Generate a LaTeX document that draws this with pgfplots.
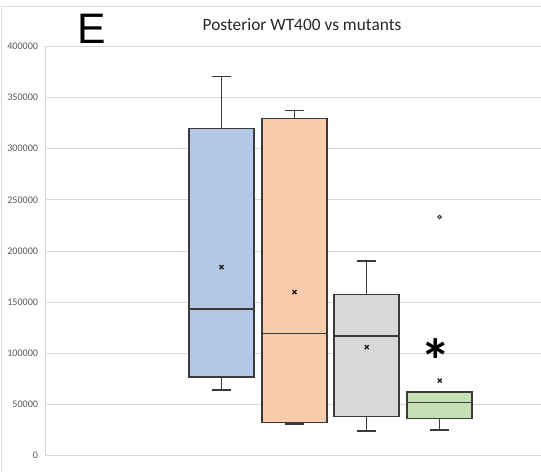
\documentclass[border=0pt]{standalone}
\usepackage{pgfplots}
\pgfplotsset{compat=1.18}
\usepgfplotslibrary{statistics}
\usepackage{fontspec}
\setmainfont{Carlito}
\newfontfamily\arialfont{Liberation Sans}
\definecolor{gridc}{HTML}{D9D9D9}
\definecolor{tickc}{HTML}{595959}
\definecolor{boxline}{HTML}{3A3A3A}
\definecolor{cblue}{HTML}{B4C7E7}
\definecolor{corange}{HTML}{F8CBAD}
\definecolor{cgray}{HTML}{D9D9D9}
\definecolor{cgreen}{HTML}{C5E0B4}
\begin{document}
\begin{tikzpicture}
\path[use as bounding box] (0,0) rectangle (405.75pt,354pt);
\draw[gridc, line width=0.6pt] (0.75pt,0) -- (0.75pt,349.5pt) -- (405.75pt,349.5pt);
\begin{axis}[
  at={(33.75pt,12.225pt)}, anchor=south west,
  scale only axis, width=372pt, height=306.975pt,
  xmin=45, xmax=541, ymin=0, ymax=400,
  axis x line*=bottom, axis y line*=left,
  axis line style={draw=gridc, line width=0.6pt},
  xtick=\empty,
  ytick={0,50,100,150,200,250,300,350,400},
  yticklabels={0,50000,100000,150000,200000,250000,300000,350000,400000},
  ymajorgrids, grid style={gridc, line width=0.6pt},
  major tick length=0pt,
  yticklabel style={font=\fontsize{7.6}{8}\selectfont, text=tickc, anchor=east, inner sep=0pt, xshift=-5pt},
  clip=false,
  boxplot/draw direction=y,
  boxplot/whisker extend=19,
  boxplot/box extend=65,
]
% values in thousands
\addplot[boxplot prepared={lower whisker=64.3, lower quartile=76.7, median=143.5, upper quartile=319.7, upper whisker=370.8, draw position=221.5}, draw=boxline, fill=cblue, line width=1.1pt] coordinates {};
\addplot[boxplot prepared={lower whisker=31.0, lower quartile=32.7, median=119.4, upper quartile=329.7, upper whisker=337.3, draw position=294.5}, draw=boxline, fill=corange, line width=1.1pt] coordinates {};
\addplot[boxplot prepared={lower whisker=24.2, lower quartile=38.5, median=117.1, upper quartile=157.5, upper whisker=190.5, draw position=366.7}, draw=boxline, fill=cgray, line width=1.1pt] coordinates {};
\addplot[boxplot prepared={lower whisker=25.1, lower quartile=36.2, median=51.9, upper quartile=62.3, upper whisker=62.3, draw position=439.7}, draw=boxline, fill=cgreen, line width=1.1pt] coordinates {};
\addplot[only marks, mark=x, mark size=2.1pt, mark options={draw=black!85, line width=1pt}] coordinates {(221.5,184.3) (294.5,159.9) (366.7,106.1) (439.7,73.4)};
\addplot[only marks, mark=o, mark size=1.3pt, mark options={draw=boxline, fill=gray, line width=0.8pt}] coordinates {(439.7,233.3)};
\node[font=\bfseries\fontsize{46}{46}\selectfont] at (axis cs:436,93) {*};
\end{axis}
\node[font=\fontsize{13}{14}\selectfont, text=black!85] at (226.5pt,335.4pt) {Posterior WT400 vs mutants};
\node[font=\arialfont\fontsize{32}{32}\selectfont, inner sep=0pt] at (68.6pt,332.5pt) {E};
\end{tikzpicture}
\end{document}
